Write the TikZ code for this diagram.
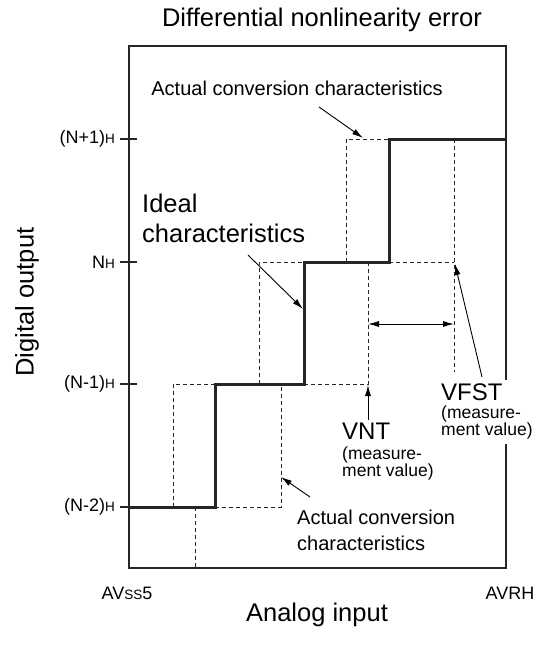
\documentclass[tikz,border=0pt]{standalone}
\usepackage{fontspec}
\setmainfont{Liberation Sans}
\usetikzlibrary{arrows.meta}
\newcommand\lowtxt[1]{{\fontsize{13.5}{12}\selectfont #1}}

\begin{document}
\begin{tikzpicture}[x=1pt,y=-1pt,
		frame/.style={line width=1.1pt,draw=black!85},
		ideal/.style={line width=3pt,draw=black!85},
		actual/.style={line width=0.9pt,draw=black!85,dash pattern=on 4pt off 3pt},
		pointer/.style={line width=0.9pt,-{Latex[length=11pt,width=6pt]}},
		twoway/.style={line width=0.9pt,{Latex[length=11pt,width=6pt]}-{Latex[length=11pt,width=6pt]}},
		bigtxt/.style={font=\fontsize{25.5}{30}\selectfont,inner sep=0pt},
		midtxt/.style={font=\fontsize{20}{26}\selectfont,inner sep=0pt},
		ticktxt/.style={font=\fontsize{18}{18}\selectfont,inner sep=0pt},
		notetxt/.style={font=\fontsize{17.5}{17}\selectfont,inner sep=1pt,align=left}]
		\useasboundingbox (0,0) rectangle (545,650);
		\def\xl{129}
		\def\xr{506}
		\def\yt{46}
		\def\yb{568}
		\def\bigV{\fontsize{24}{24}\selectfont V}

		\draw[frame] (\xl,\yt) rectangle (\xr,\yb);
		\foreach \y/\lab in {139/(N+1),262/N,384/(N-1),507/(N-2)}{
			\draw[frame] (120,\y) -- (137,\y);
			\node[ticktxt,anchor=east] (lv\y) at (115,\y) {\lab\lowtxt{H}};
		}

		% actual conversion steps
		\draw[actual] (195,507) -- (195,\yb);
		\draw[actual] (173,507) -- (173,384) -- (215,384);
		\draw[actual] (215,507) -- (281,507) -- (281,384);
		\draw[actual] (259,384) -- (259,262) -- (304,262);
		\draw[actual] (304,384) -- (368,384) -- (368,262);
		\draw[actual] (346,262) -- (346,139) -- (389,139);
		\draw[actual] (389,262) -- (454,262);
		\draw[actual] (454,139) -- (454,372);

		% ideal steps
		\draw[ideal] (\xl,507) -- (215,507) -- (215,384) -- (304,384)
			-- (304,262) -- (389,262) -- (389,139) -- (\xr,139);

		\node[bigtxt] (title) at (322,20) {Differential nonlinearity error};
		\node[bigtxt,rotate=90] (yaxis) at (27,302) {Digital output};
		\node[bigtxt] (xaxis) at (317,615) {Analog input};
		\node[ticktxt] (avss) at (127,593) {AV\lowtxt{SS}5};
		\node[ticktxt] (avrh) at (510,593) {AVRH};

		\node[midtxt] (acttop) at (297,88) {Actual conversion characteristics};
		\node[bigtxt,align=left,anchor=west] (ideal) at (142,218) {Ideal\\characteristics};
		\node[midtxt,align=left,anchor=west] (actbot) at (297,530) {Actual conversion\\characteristics};
		\node[notetxt,anchor=north west] (vnt) at (341,422) {\bigV NT\\[3pt](measure-\\ment value)};
		\node[notetxt,anchor=north west,fill=white,inner ysep=4pt] (vfst) at (440,380)
			{\bigV FST\\[1pt](measure-\\ment value)};

		\coordinate (acttopend) at (363,138);
		\coordinate (idealend) at (303,309);
		\coordinate (vntend) at (368,385);
		\coordinate (vfstend) at (455,264);
		\coordinate (actbotend) at (281,477);
		\coordinate (gapl) at (368,324);
		\coordinate (gapr) at (454,324);

		\draw[pointer] (319,107) -- (acttopend);
		\draw[pointer] (248,255) -- (idealend);
		\draw[pointer] (368,420) -- (vntend);
		\draw[pointer] (482,377) -- (vfstend);
		\draw[pointer] (310,497) -- (actbotend);
		\draw[twoway] (gapl) -- (gapr);

	\end{tikzpicture}
\end{document}
